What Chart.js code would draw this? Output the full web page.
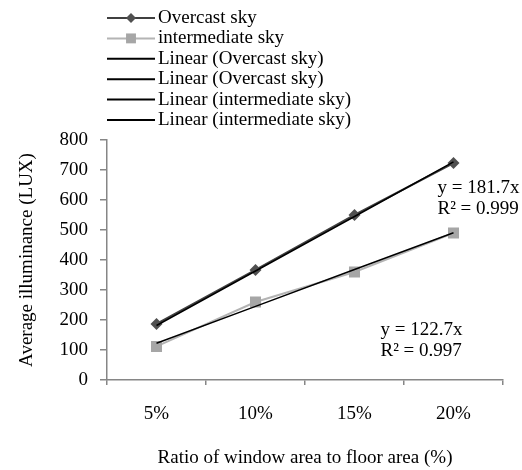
<!DOCTYPE html>
<html>
<head>
<meta charset="utf-8">
<script src="https://cdn.jsdelivr.net/npm/chart.js@4"></script>
<style>
  html, body { margin: 0; padding: 0; background: #fff; }
  #wrap { width: 522px; height: 470px; }
</style>
</head>
<body>
<div id="wrap"><canvas id="chart"></canvas></div>
<script>
// Data
const categories = ["5%", "10%", "15%", "20%"];
const overcast = [187, 367, 550, 723];
const intermediate = [112, 260, 360, 490];
const overcastTrend = [181.7, 363.4, 545.1, 726.8];
const intermediateTrend = [122.7, 245.4, 368.1, 490.8];
const legendLabels = [
  "Overcast sky",
  "intermediate sky",
  "Linear (Overcast sky)",
  "Linear (Overcast sky)",
  "Linear (intermediate sky)",
  "Linear (intermediate sky)",
];
const equations = [
  ["y = 181.7x", "R\u00B2 = 0.999"],
  ["y = 122.7x", "R\u00B2 = 0.997"],
];

const FONT = "'Liberation Serif', 'Times New Roman', serif";
const AXIS = "#868686";

// Legend + equation labels drawn on the canvas
const extras = {
  id: "extras",
  afterDraw(chart) {
    const ctx = chart.ctx;
    const x = chart.scales.x;
    const y = chart.scales.y;
    ctx.save();
    ctx.font = "19px " + FONT;
    ctx.fillStyle = "#000";
    ctx.textBaseline = "middle";

    // legend
    const styles = [
      { color: "#404040", point: "rectRot", r: 5, fill: "#505050" },
      { color: "#b4b4b4", point: "rect", r: 7, fill: "#a6a6a6" },
      { color: "#000" }, { color: "#000" }, { color: "#000" }, { color: "#000" },
    ];
    legendLabels.forEach((label, i) => {
      const ly = 18 + i * 20.4;
      const s = styles[i];
      ctx.strokeStyle = s.color;
      ctx.lineWidth = 2;
      ctx.beginPath();
      ctx.moveTo(107, ly);
      ctx.lineTo(155, ly);
      ctx.stroke();
      if (s.point) {
        ctx.fillStyle = s.fill;
        Chart.helpers.drawPoint(ctx, { pointStyle: s.point, radius: s.r, borderWidth: 0 }, 131, ly);
        ctx.fillStyle = "#000";
      }
      ctx.fillText(label, 158, ly);
    });

    // trend equations
    const spots = [
      { cx: x.getPixelForValue(3) - 16, v: 640 },
      { cx: x.getPixelForValue(2) + 26, v: 165 },
    ];
    equations.forEach((lines, i) => {
      const py = y.getPixelForValue(spots[i].v);
      lines.forEach((t, j) => ctx.fillText(t, spots[i].cx, py + j * 21));
    });
    ctx.restore();
  },
};

new Chart(document.getElementById("chart"), {
  type: "line",
  data: {
    labels: categories,
    datasets: [
      {
        label: "Linear (Overcast sky)",
        data: overcastTrend,
        borderColor: "#000",
        borderWidth: 1.5,
        pointRadius: 0,
        order: 0,
      },
      {
        label: "Linear (intermediate sky)",
        data: intermediateTrend,
        borderColor: "#000",
        borderWidth: 1.5,
        pointRadius: 0,
        order: 0,
      },
      {
        label: "Overcast sky",
        data: overcast,
        borderColor: "#404040",
        borderWidth: 2,
        pointStyle: "rectRot",
        pointRadius: 6,
        pointBackgroundColor: "#505050",
        pointBorderWidth: 0,
        order: 1,
      },
      {
        label: "intermediate sky",
        data: intermediate,
        borderColor: "#b4b4b4",
        borderWidth: 2,
        pointStyle: "rect",
        pointRadius: 7.8,
        pointBackgroundColor: "#a6a6a6",
        pointBorderWidth: 0,
        order: 1,
      },
    ],
  },
  options: {
    responsive: true,
    maintainAspectRatio: false,
    animation: false,
    layout: { padding: { left: 10, right: 19, top: 140, bottom: 0 } },
    plugins: { legend: { display: false }, tooltip: { enabled: false } },
    scales: {
      x: {
        offset: true,
        afterFit: (s) => { s.height = 90; },
        border: { color: AXIS, width: 1.5 },
        grid: { offset: true, drawOnChartArea: false, tickLength: 5, color: AXIS, lineWidth: 1.5 },
        ticks: { color: "#000", font: { family: FONT, size: 19 }, padding: 18 },
        title: {
          display: true,
          text: "Ratio of window area to floor area (%)",
          color: "#000",
          font: { family: FONT, size: 19 },
          padding: { top: 0, bottom: 1 },
        },
      },
      y: {
        min: 0,
        max: 800,
        afterFit: (s) => { s.width = 97; },
        border: { color: AXIS, width: 1.5 },
        grid: { drawOnChartArea: false, tickLength: 7, color: AXIS, lineWidth: 1.5 },
        ticks: { stepSize: 100, color: "#000", font: { family: FONT, size: 19 }, padding: 12 },
        title: {
          display: true,
          text: "Average illuminance (LUX)",
          color: "#000",
          font: { family: FONT, size: 19 },
          padding: { top: 6, bottom: 0 },
        },
      },
    },
  },
  plugins: [extras],
});
</script>
</body>
</html>
